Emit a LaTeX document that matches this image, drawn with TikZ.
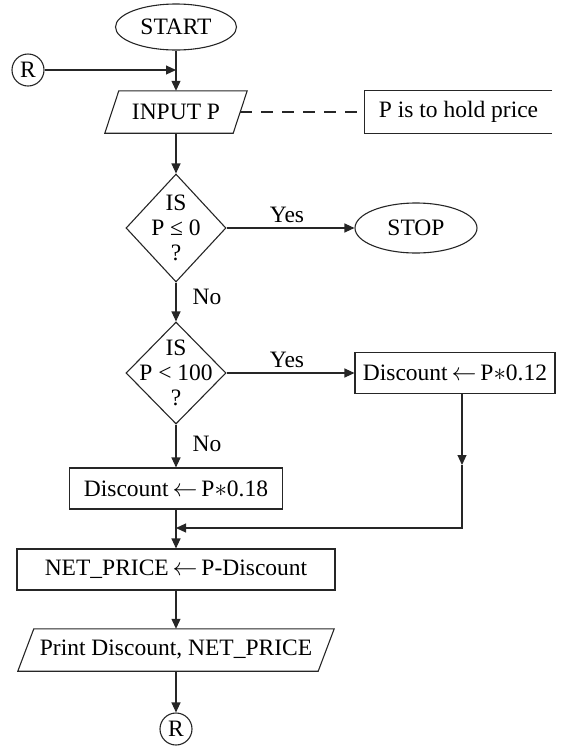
\documentclass[tikz,border=0pt]{standalone}
\usepackage{fontspec}
\setmainfont{Liberation Serif}
\usetikzlibrary{arrows.meta,shapes.geometric,calc}
\newcommand{\getsarrow}{\,$\leftarrow$\,}
\begin{document}
\begin{tikzpicture}[x=1pt,y=-1pt,
  every node/.style={font=\fontsize{23.5}{25}\selectfont, inner sep=0pt},
  ln/.style={line width=1.1pt, draw=black!85},
  arr/.style={ln, -{Triangle[length=10pt,width=9pt]}},
  term/.style={ellipse, ln},
  conn/.style={circle, ln, minimum size=32pt},
  boxnode/.style={rectangle, ln, minimum height=41pt},
  iobox/.style={rectangle, minimum height=42pt},
  decision/.style={diamond, ln, minimum width=100pt},
  lbl/.style={}
]
\useasboundingbox (0,0) rectangle (563,748);

% nodes
\node[term, minimum width=121pt, minimum height=46pt] (start) at (176,27) {START};
\node[conn] (r1) at (28,70) {R};
\node[iobox, minimum width=128pt] (inp) at (176,112) {INPUT P};
\draw[ln] ($(inp.north west)+(7,0)$) -- ($(inp.north east)+(7,0)$) -- ($(inp.south east)+(-7,0)$) -- ($(inp.south west)+(-7,0)$) -- cycle;
\node[iobox, minimum width=187pt] (note) at (458.5,112) {P is to hold price};
\draw[ln] (note.north east) -- (note.north west) -- (note.south west) -- (note.south east);

\node[decision, minimum height=108pt] (d1) at (176,228) {};
\node[align=center] (t1) at (d1) {IS\\P ≤ 0\\?};
\node[term, minimum width=122pt, minimum height=50pt] (stop) at (416,228) {STOP};

\node[decision, minimum height=102pt] (d2) at (176,373) {};
\node[align=center] (t2) at (d2) {IS\\P < 100\\?};
\node[boxnode, minimum width=200pt] (b12) at (455,373) {Discount\getsarrow P$\ast$0.12};

\node[boxnode, minimum width=213pt] (b18) at (176,488.5) {Discount\getsarrow P$\ast$0.18};
\node[boxnode, minimum width=318pt] (net) at (176,569.5) {NET\_PRICE\getsarrow P-Discount};
\node[iobox, minimum width=300pt] (prt) at (176,650) {Print Discount, NET\_PRICE};
\draw[ln] ($(prt.north west)+(8,0)$) -- ($(prt.north east)+(8,0)$) -- ($(prt.south east)+(-8,0)$) -- ($(prt.south west)+(-8,0)$) -- cycle;
\node[conn] (r2) at (176,729) {R};

% labels
\node[lbl] (y1) at (287,215) {Yes};
\node[lbl] (n1) at (207,297) {No};
\node[lbl] (y2) at (287,360) {Yes};
\node[lbl] (n2) at (207,444) {No};

% connectors
\coordinate (j1) at (176,70);
\coordinate (c1) at (462,528);
\coordinate (c2) at (462,465);
\coordinate (j2) at (176,528);
\draw[arr] (r1) -- (j1);
\draw[arr] (start) -- (inp);
\draw[ln, dash pattern=on 12pt off 9pt] (inp.east) -- (note.west);
\draw[arr] (inp) -- (d1);
\draw[arr] (d1) -- (stop);
\draw[arr] (d1) -- (d2);
\draw[arr] (d2) -- (b12);
\draw[arr] (d2) -- (b18);
\draw[arr] (b12.south -| c1) -- (c2);
\draw[arr] (c2) -- (c1) -- (j2);
\draw[arr] (b18) -- (net);
\draw[arr] (net) -- (prt);
\draw[arr] (prt) -- (r2);
\end{tikzpicture}
\end{document}
